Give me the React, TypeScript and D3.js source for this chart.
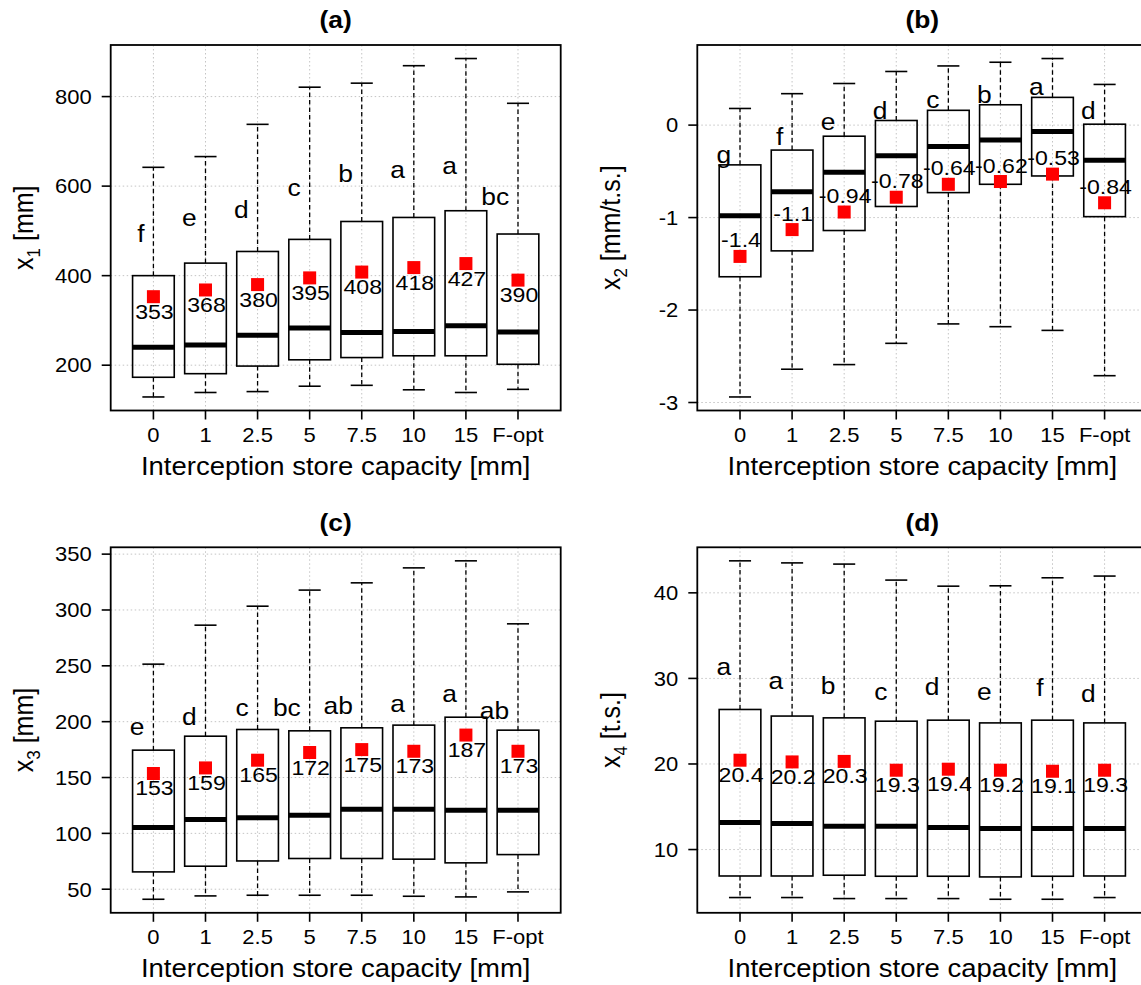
import React from "react";
import * as d3 from "d3";

const CATEGORIES = ["0", "1", "2.5", "5", "7.5", "10", "15", "F-opt"];

// Panel (a) x1 [mm]
const aLow = [129, 139, 141, 153, 155, 145, 139, 146];
const aQ1 = [173, 181, 198, 212, 217, 221, 221, 202];
const aMed = [240, 245, 267, 283, 273, 275, 288, 274];
const aQ3 = [400, 428, 454, 481, 521, 530, 545, 493];
const aHigh = [642, 666, 738, 821, 830, 869, 885, 785];
const aMean = [353, 368, 380, 395, 408, 418, 427, 390];
const aMeanLabels = ["353", "368", "380", "395", "408", "418", "427", "390"];
const aLetters = ["f", "e", "d", "c", "b", "a", "a", "bc"];
const aLetterY = [476, 510, 529, 577, 610, 618, 628, 557];
const aTicks = [200, 400, 600, 800];

// Panel (b) x2 [mm/t.s.]
const bLow = [-2.94, -2.64, -2.59, -2.36, -2.15, -2.18, -2.22, -2.71];
const bQ1 = [-1.64, -1.36, -1.14, -0.88, -0.73, -0.64, -0.55, -0.99];
const bMed = [-0.98, -0.72, -0.51, -0.33, -0.23, -0.16, -0.07, -0.38];
const bQ3 = [-0.43, -0.27, -0.12, 0.05, 0.16, 0.22, 0.3, 0.01];
const bHigh = [0.18, 0.34, 0.45, 0.58, 0.64, 0.68, 0.72, 0.44];
const bMean = [-1.42, -1.13, -0.94, -0.78, -0.64, -0.61, -0.53, -0.84];
const bMeanLabels = ["-1.4", "-1.1", "-0.94", "-0.78", "-0.64", "-0.62", "-0.53", "-0.84"];
const bLetters = ["g", "f", "e", "d", "c", "b", "a", "d"];
const bLetterY = [-0.41, -0.21, -0.05, 0.07, 0.18, 0.24, 0.33, 0.065];
const bTicks = [-3, -2, -1, 0];

// Panel (c) x3 [mm]
const cLow = [41, 44, 44.6, 44.6, 44.6, 43.7, 43.1, 47.6];
const cQ1 = [65.5, 70.6, 75.3, 77.5, 77.5, 76.9, 73.6, 81];
const cMed = [105.2, 112.4, 113.9, 116.2, 121.5, 121.6, 120.7, 120.7];
const cQ3 = [174.5, 187, 193, 191.8, 194.5, 196.9, 204, 192.4];
const cHigh = [251.5, 286.4, 303.4, 317.8, 324.3, 337.7, 344, 287.6];
const cMean = [153.6, 158.6, 165.5, 172.4, 175, 173.5, 188, 173.5];
const cMeanLabels = ["153", "159", "165", "172", "175", "173", "187", "173"];
const cLetters = ["e", "d", "c", "bc", "ab", "a", "a", "ab"];
const cLetterY = [188, 197, 205, 205, 207, 209, 218, 202];
const cTicks = [50, 100, 150, 200, 250, 300, 350];

// Panel (d) x4 [t.s.]
const dLow = [4.39, 4.39, 4.27, 4.27, 4.27, 4.19, 4.19, 4.39];
const dQ1 = [6.91, 6.91, 7.0, 6.88, 6.88, 6.8, 6.88, 6.91];
const dMed = [13.16, 13.04, 12.72, 12.72, 12.57, 12.45, 12.45, 12.45];
const dQ3 = [26.37, 25.6, 25.39, 25.0, 25.12, 24.8, 25.12, 24.8];
const dHigh = [43.74, 43.5, 43.36, 41.49, 40.78, 40.82, 41.76, 41.96];
const dMean = [20.44, 20.24, 20.3, 19.27, 19.39, 19.27, 19.15, 19.27];
const dMeanLabels = ["20.4", "20.2", "20.3", "19.3", "19.4", "19.2", "19.1", "19.3"];
const dLetters = ["a", "a", "b", "c", "d", "e", "f", "d"];
const dLetterY = [30.4, 28.8, 28.2, 27.5, 28.1, 27.5, 27.9, 27.2];
const dTicks = [10, 20, 30, 40];

const FONT = "'Liberation Sans', Arial, Helvetica, sans-serif";
const SX = 1.1;

function T(props: any) {
  const { x, y, anchor = "middle", size = 20, weight = "normal", rot = false, fill = "#000", children } = props;
  return (
    <text
      transform={`translate(${x},${y}) scale(${SX},1)${rot ? " rotate(-90)" : ""}`}
      textAnchor={anchor}
      fontSize={size}
      fontWeight={weight}
      fontFamily={FONT}
      fill={fill}
    >
      {children}
    </text>
  );
}

function Panel(props: any) {
  const { left, top, title, sub, unit, low, q1, med, q3, high, mean, meanLabels, letters, letterY, ticks, labelAbove } = props;
  const W = 450;
  const H = 365.5;
  const x0 = left, x1 = left + W, y0 = top, y1 = top + H;
  const n = CATEGORIES.length;
  const xs = d3.scaleLinear().domain([0.5 - 0.04 * n, n + 0.5 + 0.04 * n]).range([x0, x1]);
  const lo = d3.min(low) as number;
  const hi = d3.max(high) as number;
  const r = hi - lo;
  const ys = d3.scaleLinear().domain([lo - 0.04 * r, hi + 0.04 * r]).range([y1, y0]);
  const bw = xs(1.8) - xs(1);
  const cap = bw * 0.53;
  const unitX = xs(2) - xs(1);
  const grid = "#c4c4c4";
  return (
    <g>
      <defs>
        <clipPath id={`clip-${title}`}>
          <rect x={x0} y={y0} width={W} height={H} />
        </clipPath>
      </defs>
      {/* grid */}
      <g clipPath={`url(#clip-${title})`}>
        {ticks.map((t: number) => (
          <line key={"gy" + t} x1={x0} x2={x1} y1={ys(t)} y2={ys(t)} stroke={grid} strokeWidth={1} strokeDasharray="1.5 2.5" />
        ))}
        {CATEGORIES.map((c, i) => (
          <line key={"gx" + c} x1={xs(i + 1)} x2={xs(i + 1)} y1={y0} y2={y1} stroke={grid} strokeWidth={1} strokeDasharray="1.5 2.5" />
        ))}
      </g>
      {/* boxes */}
      {CATEGORIES.map((c, i) => {
        const cx = xs(i + 1);
        return (
          <g key={"b" + c}>
            <line x1={cx} x2={cx} y1={ys(q3[i])} y2={ys(high[i])} stroke="#000" strokeWidth={1.3} strokeDasharray="4.5 3" />
            <line x1={cx} x2={cx} y1={ys(q1[i])} y2={ys(low[i])} stroke="#000" strokeWidth={1.3} strokeDasharray="4.5 3" />
            <line x1={cx - cap / 2} x2={cx + cap / 2} y1={ys(high[i])} y2={ys(high[i])} stroke="#000" strokeWidth={1.6} />
            <line x1={cx - cap / 2} x2={cx + cap / 2} y1={ys(low[i])} y2={ys(low[i])} stroke="#000" strokeWidth={1.6} />
            <rect x={cx - bw / 2} y={ys(q3[i])} width={bw} height={ys(q1[i]) - ys(q3[i])} fill="none" stroke="#000" strokeWidth={1.6} />
            <line x1={cx - bw / 2} x2={cx + bw / 2} y1={ys(med[i])} y2={ys(med[i])} stroke="#000" strokeWidth={5} />
          </g>
        );
      })}
      {/* means */}
      {CATEGORIES.map((c, i) => (
        <rect key={"m" + c} x={xs(i + 1) - 6.5} y={ys(mean[i]) - 6.5} width={13} height={13} fill="#ff0000" />
      ))}
      {CATEGORIES.map((c, i) => (
        <T key={"ml" + c} x={xs(i + 1) + 1} y={labelAbove ? ys(mean[i]) - 9 : ys(mean[i]) + 22} size={21}>
          {meanLabels[i]}
        </T>
      ))}
      {/* letters */}
      {CATEGORIES.map((c, i) => (
        <T key={"l" + c} x={xs(i + 1) - 0.17 * unitX} y={ys(letterY[i])} anchor="end" size={24}>
          {letters[i]}
        </T>
      ))}
      {/* frame */}
      <rect x={x0} y={y0} width={W} height={H} fill="none" stroke="#000" strokeWidth={1.8} />
      {/* y axis */}
      {ticks.map((t: number) => (
        <g key={"ty" + t}>
          <line x1={x0 - 9} x2={x0} y1={ys(t)} y2={ys(t)} stroke="#000" strokeWidth={1.6} />
          <T x={x0 - 19} y={ys(t) + 7.3} anchor="end" size={20}>
            {String(t)}
          </T>
        </g>
      ))}
      {/* x axis */}
      {CATEGORIES.map((c, i) => (
        <g key={"tx" + c}>
          <line x1={xs(i + 1)} x2={xs(i + 1)} y1={y1} y2={y1 + 9} stroke="#000" strokeWidth={1.6} />
          <T x={xs(i + 1)} y={y1 + 31.2} size={20}>
            {c}
          </T>
        </g>
      ))}
      <T x={(x0 + x1) / 2} y={y1 + 64.5} size={25}>
        Interception store capacity [mm]
      </T>
      <T x={x0 - 77.4} y={(y0 + y1) / 2} size={25} rot={true}>
        <tspan>x</tspan>
        <tspan dy={6} fontSize={17}>{sub}</tspan>
        <tspan dy={-6}>{" " + unit}</tspan>
      </T>
      <T x={(x0 + x1) / 2} y={y0 - 16.7} size={24} weight="bold">
        {title}
      </T>
    </g>
  );
}

export default function App() {
  return (
    <svg width={1141} height={985} style={{ position: "absolute", left: 0, top: 0, background: "#fff" }}>
      <rect x={0} y={0} width={1141} height={985} fill="#fff" />
      <Panel left={110.7} top={45} title="(a)" sub="1" unit="[mm]" low={aLow} q1={aQ1} med={aMed} q3={aQ3} high={aHigh}
        mean={aMean} meanLabels={aMeanLabels} letters={aLetters} letterY={aLetterY} ticks={aTicks} labelAbove={false} />
      <Panel left={697.3} top={45} title="(b)" sub="2" unit="[mm/t.s.]" low={bLow} q1={bQ1} med={bMed} q3={bQ3} high={bHigh}
        mean={bMean} meanLabels={bMeanLabels} letters={bLetters} letterY={bLetterY} ticks={bTicks} labelAbove={true} />
      <Panel left={110.7} top={547.3} title="(c)" sub="3" unit="[mm]" low={cLow} q1={cQ1} med={cMed} q3={cQ3} high={cHigh}
        mean={cMean} meanLabels={cMeanLabels} letters={cLetters} letterY={cLetterY} ticks={cTicks} labelAbove={false} />
      <Panel left={697.3} top={547.3} title="(d)" sub="4" unit="[t.s.]" low={dLow} q1={dQ1} med={dMed} q3={dQ3} high={dHigh}
        mean={dMean} meanLabels={dMeanLabels} letters={dLetters} letterY={dLetterY} ticks={dTicks} labelAbove={false} />
    </svg>
  );
}
